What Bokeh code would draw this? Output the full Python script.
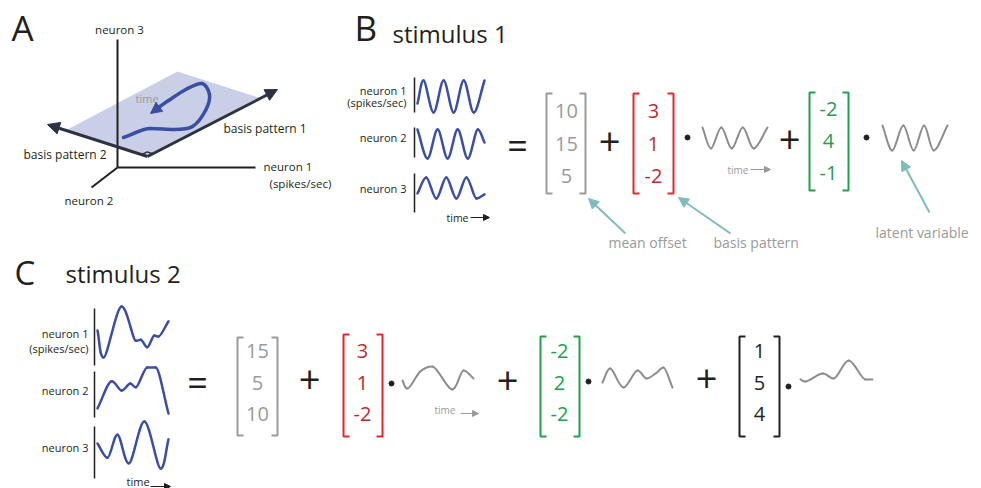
from bokeh.plotting import figure
from bokeh.models import Range1d, Arrow, NormalHead
from bokeh.core.properties import value
from bokeh.embed import file_html
from bokeh.resources import INLINE

FONT = "Open Sans"
DARK = "#231f20"
GRAY = "#9a9a9a"
WGRAY = "#8c8c8c"
BLUE = "#3a4ea3"
RED_B = "#e8262a"
RED_N = "#c1272d"
GREEN = "#21a04a"
TEAL = "#80bcbc"

# ---------------- data ----------------
neuron_labels = ["neuron 1", "neuron 2", "neuron 3"]
stim1_offset = [10, 15, 5]
stim1_basis1 = [3, 1, -2]
stim1_basis2 = [-2, 4, -1]
stim2_offset = [15, 5, 10]
stim2_basis1 = [3, 1, -2]
stim2_basis2 = [-2, 2, -2]
stim2_basis3 = [1, 5, 4]

# waveforms: normalized time (0..1) and normalized rate (0 = low, 1 = high)
s1_n1_t = [0, .09, .24, .39, .54, .69, .84, 1.0]
s1_n1_v = [.28, 1, 0, 1, 0, 1, 0, 1]
s1_n2_t = [0, .15, .30, .45, .60, .75, .90, 1.0]
s1_n2_v = [1, 0, 1, 0, 1, 0, 1, .55]
s1_n3_t = [0, .13, .28, .43, .58, .73, .88, 1.0]
s1_n3_v = [.24, 1, 0, 1, 0, 1, 0, .2]
s1_lat1_t = [0, .13, .29, .45, .62, .79, 1.0]
s1_lat1_v = [1, 0, 1, 0, 1, 0, 1]
s1_lat2_t = [0, .15, .32, .48, .64, .79, 1.0]
s1_lat2_v = [1, 0, 1, 0, 1, 0, 1]

s2_n1_t = [0, .085, .34, .54, .61, .70, .80, .86, 1.0]
s2_n1_v = [.53, 0, 1, .33, .35, .20, .43, .41, .71]
s2_n2_t = [0, .20, .34, .46, .54, .70, .82, 1.0]
s2_n2_v = [.11, .70, .50, .65, .57, 1, 1, 0]
s2_n3_t = [0, .14, .28, .44, .66, .89, 1.0]
s2_n3_v = [.53, .23, .72, .11, 1, 0, .62]
s2_lat1_t = [0, .07, .25, .42, .70, .86, 1.0]
s2_lat1_v = [.39, .04, .78, 1, 0, .83, .48]
s2_lat2_t = [0, .11, .30, .50, .63, .76, .87, 1.0]
s2_lat2_v = [.25, .95, 0, .85, .45, .70, 1, 0]
s2_lat3_t = [0, .07, .31, .46, .67, .90, 1.0]
s2_lat3_v = [.10, 0, .38, .14, 1, .10, .10]

# panel A trajectory shape (in panel pixel space)
traj_x = [123, 150, 173, 192, 205, 209, 201, 187, 168, 158]
traj_y = [137, 128, 129, 126, 110, 94, 83, 88, 100, 107]

# ---------------- figure ----------------
p = figure(width=981, height=488, output_backend="svg", toolbar_location=None,
           x_range=Range1d(0, 981), y_range=Range1d(488, 0),
           min_border=0, outline_line_color=None,
           x_axis_location=None, y_axis_location=None)
p.xgrid.visible = False
p.ygrid.visible = False
p.background_fill_color = "white"


def smooth(xs, ys, color, width):
    n = len(xs)
    mx, my = [], []
    for i in range(n):
        if i == 0:
            dx, dy = xs[1] - xs[0], ys[1] - ys[0]
        elif i == n - 1:
            dx, dy = xs[-1] - xs[-2], ys[-1] - ys[-2]
        else:
            dx, dy = (xs[i + 1] - xs[i - 1]) / 2, (ys[i + 1] - ys[i - 1]) / 2
            if (ys[i] - ys[i - 1]) * (ys[i + 1] - ys[i]) <= 0:
                dy = 0
        mx.append(dx)
        my.append(dy)
    p.bezier(x0=xs[:-1], y0=ys[:-1], x1=xs[1:], y1=ys[1:],
             cx0=[xs[i] + mx[i] / 3 for i in range(n - 1)],
             cy0=[ys[i] + my[i] / 3 for i in range(n - 1)],
             cx1=[xs[i + 1] - mx[i + 1] / 3 for i in range(n - 1)],
             cy1=[ys[i + 1] - my[i + 1] / 3 for i in range(n - 1)],
             line_color=color, line_width=width, line_cap="round", line_join="round")


def wave(t, v, x0, x1, ytop, ybot, color, width):
    xs = [x0 + ti * (x1 - x0) for ti in t]
    ys = [ybot - vi * (ybot - ytop) for vi in v]
    smooth(xs, ys, color, width)


def txt(x, y, s, size, color=DARK, align="left", baseline="middle"):
    p.text(x=[x], y=[y], text=[s], text_font=value(FONT), text_font_size=size,
           text_color=color, text_align=align, text_baseline=baseline)


def arrow(x0, y0, x1, y1, color, width, head):
    p.add_layout(Arrow(end=NormalHead(size=head, fill_color=color, line_color=color),
                       x_start=x0, y_start=y0, x_end=x1, y_end=y1,
                       line_color=color, line_width=width))


def bracket(xl, xr, yt, yb, color, s=6, w=2):
    p.multi_line(xs=[[xl + s, xl, xl, xl + s], [xr - s, xr, xr, xr - s]],
                 ys=[[yt, yt, yb, yb], [yt, yt, yb, yb]],
                 line_color=color, line_width=w)


def column(vals, x, ys, color, size="20px"):
    p.text(x=[x] * len(vals), y=ys, text=[str(v) for v in vals],
           text_font=value(FONT), text_font_size=size, text_color=color,
           text_align="center", text_baseline="middle")


def dot(x, y):
    p.scatter(x=[x], y=[y], size=5, color=DARK)


# ---------------- panel A ----------------
txt(11, 27, "A", "35px")
p.patch(x=[67, 177, 258, 147], y=[129, 71, 97, 156], fill_color="#c8cfe6", line_color=None)
p.line(x=[117, 117], y=[39, 167], line_color=DARK, line_width=2)
p.line(x=[117, 255], y=[167, 167], line_color=DARK, line_width=2)
p.line(x=[117, 91], y=[167, 187], line_color=DARK, line_width=2)
arrow(147, 156, 277, 89, "#2d3240", 3, 12)
arrow(147, 156, 47, 124, "#2d3240", 3, 12)
p.line(x=[152.3, 146.6, 141.3], y=[153.2, 151.4, 154.2], line_color="#2d3240", line_width=1.5)
smooth(traj_x, traj_y, BLUE, 3.5)
arrow(160, 105.5, 150, 113, BLUE, 3.5, 11)
txt(119, 29, "neuron 3", "11.5px", align="center")
txt(263, 166, "neuron 1", "11.5px")
txt(269, 183, "(spikes/sec)", "11.5px")
txt(64, 200, "neuron 2", "11.5px")
txt(135, 98, "time", "11px", color=GRAY)
txt(223, 128, "basis pattern 1", "12px")
txt(23, 154, "basis pattern 2", "12px")

# ---------------- panel B ----------------
txt(354, 27, "B", "35px")
txt(392, 33, "stimulus 1", "24px")
txt(406, 90, neuron_labels[0], "11px", align="right")
txt(406, 102, "(spikes/sec)", "11px", align="right")
txt(406, 137, neuron_labels[1], "11px", align="right")
txt(406, 188, neuron_labels[2], "11px", align="right")
for (ya, yb) in [(77, 112), (127, 157), (173, 212)]:
    p.line(x=[414, 414], y=[ya, yb], line_color=DARK, line_width=1.5)
wave(s1_n1_t, s1_n1_v, 417, 484, 80, 112, BLUE, 2.5)
wave(s1_n2_t, s1_n2_v, 417, 484, 129, 158, BLUE, 2.5)
wave(s1_n3_t, s1_n3_v, 417, 484, 177, 198, BLUE, 2.5)
txt(446, 217, "time", "10.5px")
arrow(470, 217, 489, 217, DARK, 1.2, 6)
txt(517, 145, "=", "36px", align="center")
bracket(546, 585, 93, 193, GRAY)
column(stim1_offset, 566, [110, 143, 175], GRAY)
txt(609, 140, "+", "38px", align="center")
bracket(633, 673, 93, 193, RED_B)
column(stim1_basis1, 653, [110, 143, 175], RED_N)
dot(687, 137)
wave(s1_lat1_t, s1_lat1_v, 702, 767, 127, 148, WGRAY, 2)
txt(727, 169, "time", "10px", color=GRAY)
arrow(750, 169, 770, 169, GRAY, 1.2, 6)
txt(789, 138, "+", "38px", align="center")
bracket(809, 848, 92, 190, GREEN)
column(stim1_basis2, 828, [108, 140, 172], GREEN)
dot(866, 137)
wave(s1_lat2_t, s1_lat2_v, 882, 947, 125, 150, WGRAY, 2)
arrow(625, 233, 588, 198, TEAL, 2, 10)
arrow(730, 233, 678, 197, TEAL, 2, 10)
arrow(929, 212, 901, 160, TEAL, 2, 10)
txt(608, 242, "mean offset", "14px", color=GRAY)
txt(713, 242, "basis pattern", "14px", color=GRAY)
txt(875, 232, "latent variable", "14px", color=GRAY)

# ---------------- panel C ----------------
txt(14, 272, "C", "33px")
txt(65, 273, "stimulus 2", "24px")
txt(88, 333, neuron_labels[0], "11px", align="right")
txt(88, 348, "(spikes/sec)", "11px", align="right")
txt(88, 390, neuron_labels[1], "11px", align="right")
txt(88, 447, neuron_labels[2], "11px", align="right")
for (ya, yb) in [(308, 365), (371, 417), (426, 478)]:
    p.line(x=[94, 94], y=[ya, yb], line_color=DARK, line_width=1.5)
wave(s2_n1_t, s2_n1_v, 97, 168, 306, 357, BLUE, 2.5)
wave(s2_n2_t, s2_n2_v, 97, 168, 367, 413, BLUE, 2.5)
wave(s2_n3_t, s2_n3_v, 97, 168, 421, 468, BLUE, 2.5)
txt(126, 481, "time", "11px")
arrow(150, 486, 170, 486, DARK, 1.2, 6)
txt(197, 382, "=", "36px", align="center")
bracket(237, 277, 337, 435, GRAY)
column(stim2_offset, 257, [350, 382, 413], GRAY)
txt(309, 378, "+", "38px", align="center")
bracket(343, 382, 334, 436, RED_B)
column(stim2_basis1, 362, [350, 382, 413], RED_N)
dot(391, 383)
wave(s2_lat1_t, s2_lat1_v, 402, 473, 366, 389, WGRAY, 2)
txt(434, 409, "time", "10px", color=GRAY)
arrow(460, 413, 478, 413, GRAY, 1.2, 6)
txt(507, 379, "+", "38px", align="center")
bracket(540, 579, 336, 436, GREEN)
column(stim2_basis2, 559, [350, 382, 413], GREEN)
dot(588, 381)
wave(s2_lat2_t, s2_lat2_v, 602, 672, 367, 387, WGRAY, 2)
txt(706, 377, "+", "38px", align="center")
bracket(739, 779, 336, 436, DARK)
column(stim2_basis3, 759, [350, 382, 413], DARK)
dot(788, 386)
wave(s2_lat3_t, s2_lat3_v, 800, 872, 360, 381, WGRAY, 2)

open("out.html", "w").write(file_html(p, INLINE))
